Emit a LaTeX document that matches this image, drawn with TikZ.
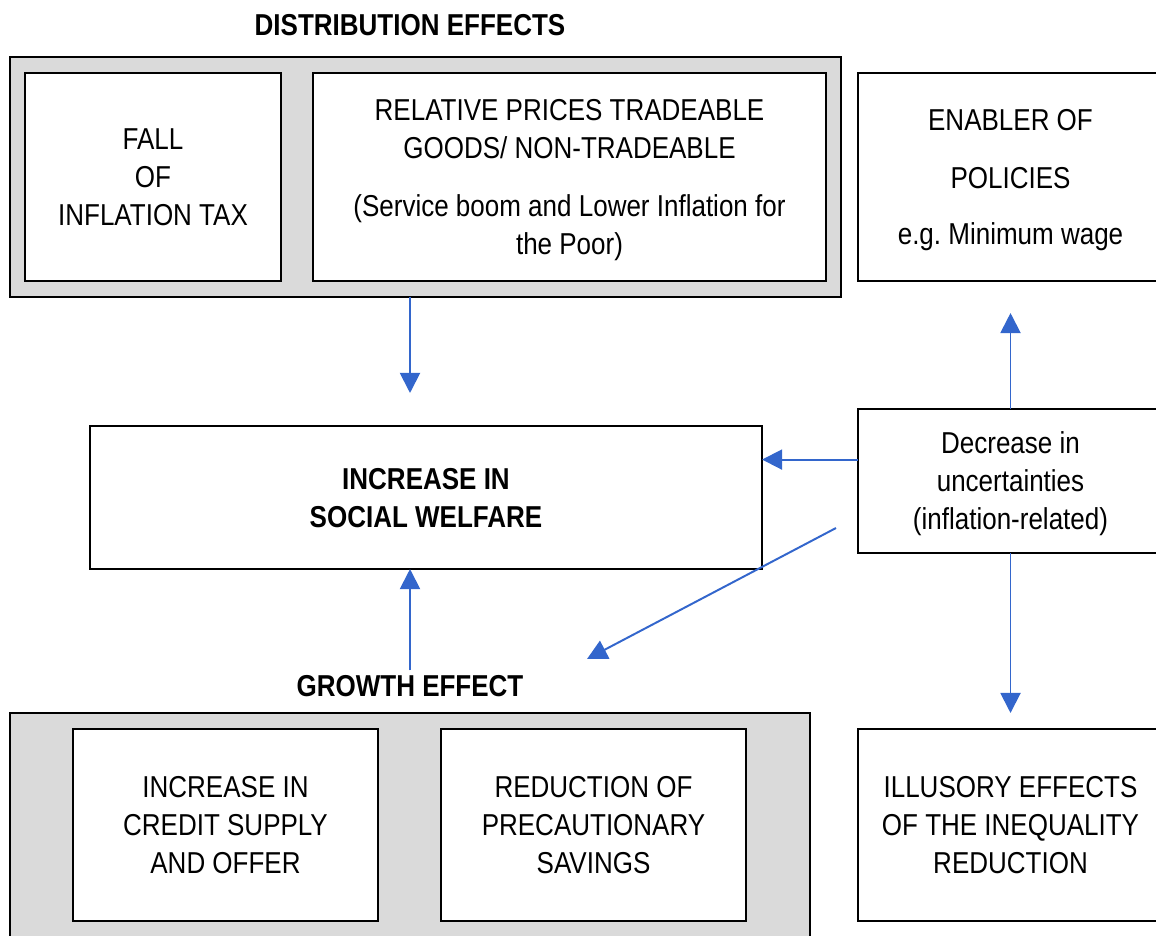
\documentclass[tikz,border=0pt]{standalone}
\usepackage{fontspec}
\setmainfont[FakeStretch=0.86]{Liberation Sans}
\usetikzlibrary{arrows.meta}
\definecolor{arrowblue}{RGB}{51,102,204}
\definecolor{boxgrey}{RGB}{218,218,218}

\begin{document}
\begin{tikzpicture}[x=0.025cm,y=-0.025cm,->,>={Triangle[length=0.5cm,width=0.5cm]},
		every node/.style={font=\fontsize{21.5}{27}\selectfont, align=center},
		box/.style={draw, line width=1.2pt, fill=white, inner sep=0pt, outer sep=0pt, text depth=0pt},
		greybox/.style={box, fill=boxgrey},
		boldtext/.style={font=\fontsize{21.5}{27}\selectfont\bfseries},
		link/.style={draw=arrowblue, line width=1.4pt}]

		\path[use as bounding box, clip] (0,0) rectangle (1156,935);

		% distribution effects
		\node(distlabel) [boldtext] at (410,25) {DISTRIBUTION EFFECTS};
		\node(distbox) [greybox, minimum width=20.775cm, minimum height=6cm] at (425.5,177) {};
		\node(fall) [box, minimum width=6.4cm, minimum height=5.2cm] at (153,177) {FALL\\OF\\INFLATION TAX};
		\node(relprice) [box, minimum width=12.825cm, minimum height=5.2cm] at (569.5,177)
		{RELATIVE PRICES TRADEABLE\\GOODS/ NON-TRADEABLE\\[0.5cm](Service boom and Lower Inflation for\\the Poor)};
		\node(enabler) [box, minimum width=7.625cm, minimum height=5.2cm] at (1010.5,177)
		{ENABLER OF\\[0.5cm]POLICIES\\[0.45cm]e.g.\ Minimum wage};

		% centre
		\node(welfare) [box, boldtext, minimum width=16.8cm, minimum height=3.575cm] at (426,497.5) {INCREASE IN\\SOCIAL WELFARE};
		\node(decr) [box, minimum width=7.625cm, minimum height=3.6cm] at (1010.5,481)
		{Decrease in\\uncertainties\\(inflation-related)};

		% growth effect
		\node(growthlabel) [boldtext] at (410,686) {GROWTH EFFECT};
		\node(growthbox) [greybox, minimum width=20cm, minimum height=5.6cm] at (410,825) {};
		\node(credit) [box, minimum width=7.625cm, minimum height=4.8cm] at (225.5,825) {INCREASE IN\\CREDIT SUPPLY\\AND OFFER};
		\node(precaut) [box, minimum width=7.625cm, minimum height=4.8cm] at (593.5,825) {REDUCTION OF\\PRECAUTIONARY\\SAVINGS};
		\node(illusory) [box, minimum width=7.625cm, minimum height=4.8cm] at (1010.5,825) {ILLUSORY EFFECTS\\OF THE INEQUALITY\\REDUCTION};

		\coordinate(diagstart) at (836,528);
		\coordinate(diagend) at (587,659);

		\draw[->, link, shorten >=0.825cm] (distbox.south -| distlabel) -- (welfare.north -| distlabel);
		\draw[->, link] (growthlabel.north) -- (growthlabel.north |- welfare.south);
		\draw[->, link] (decr.172) -- (decr.172 -| welfare.east);
		\draw[->, link] (diagstart) -- (diagend);
		\draw[->, link, shorten >=0.8cm] (decr.north) -- (enabler.south);
		\draw[->, link, shorten >=0.4cm] (decr.south) -- (illusory.north);

	\end{tikzpicture}
\end{document}
